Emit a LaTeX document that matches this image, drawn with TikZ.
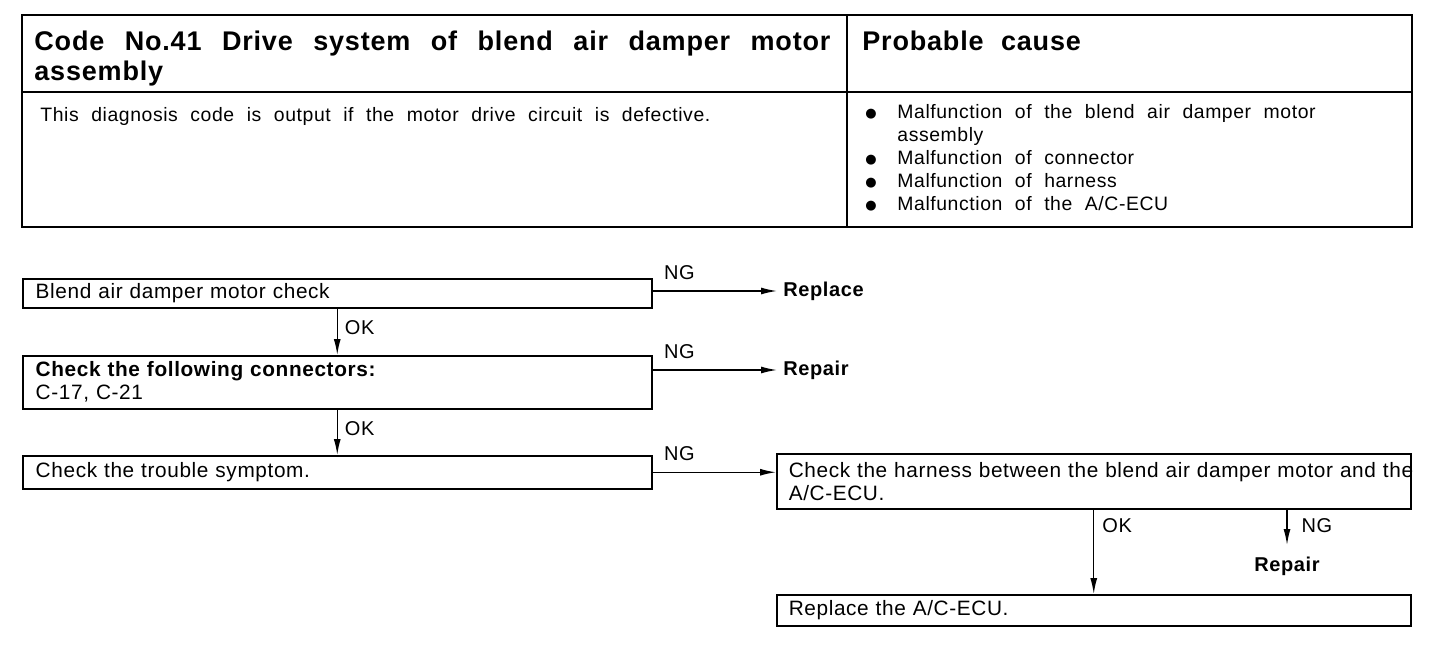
\documentclass[tikz,border=0pt]{standalone}
\usepackage{fontspec}
\setmainfont{Liberation Sans}[WordSpace=2.1, LetterSpace=3]
\newfontfamily\bulfont{DejaVu Sans}
\usepackage{tikz}
\usetikzlibrary{
  arrows.meta,
  positioning
}
\definecolor{InkBlack}{RGB}{0, 0, 0}
\newcommand{\causebul}{\makebox[17.5pt][l]{\hspace{1.5pt}\raisebox{0.6pt}{\bulfont\fontsize{6.5}{6.5}\selectfont ●}}}
\tikzset{
    headtxt/.style={inner sep=0pt, font=\fontsize{13.5}{15}\selectfont\bfseries, text=InkBlack},
    bodytxt/.style={inner sep=0pt, font=\fontsize{9.7}{11.5}\selectfont, text=InkBlack},
    flowbox/.style={draw=InkBlack, line width=0.75pt, anchor=north west, inner xsep=6.5pt, inner ysep=0pt,
        align=left, font=\fontsize{10.4}{11.5}\selectfont},
    result/.style={inner xsep=3pt, inner ysep=0pt, font=\fontsize{10}{11.5}\selectfont\bfseries},
    flowline/.style={line width=0.7pt, -{Latex[length=8pt, width=3.5pt]}},
    nglbl/.style={anchor=south west, inner sep=0pt, font=\fontsize{10}{11.5}\selectfont},
    oklbl/.style={anchor=north west, inner sep=0pt, font=\fontsize{10}{11.5}\selectfont}
}

\begin{document}
\begin{tikzpicture}[x=0.5pt, y=-0.5pt]
    \useasboundingbox (0,0) rectangle (1456,658);
    \draw[line width=1.1pt] (22,15) rectangle (1412,227);
    \draw[line width=0.9pt] (22,92) -- (1412,92);
    \draw[line width=0.9pt] (847,15) -- (847,227);
    \node[headtxt, anchor=north west, text width=398pt, align=justify] (codetitle) at (34,31)
        {Code No.41 Drive system of blend air damper motor\linebreak assembly};
    \node[headtxt, anchor=north west] (probcause) at (862,31) {Probable cause};
    \node[bodytxt, anchor=north west] (codedesc) at (40,107)
        {This diagnosis code is output if the motor drive circuit is defective.};
    \node[bodytxt, anchor=north west, align=left] (causelist) at (862,104)
        {\causebul Malfunction of the blend air damper motor\\
         \hspace*{17.5pt}assembly\\
         \causebul Malfunction of connector\\
         \causebul Malfunction of harness\\
         \causebul Malfunction of the A/C-ECU};

    \node[flowbox, text width=301.5pt, minimum height=14.5pt] (motorchk) at (22,278)
        {Blend air damper motor check};
    \node[flowbox, text width=301.5pt, minimum height=26.5pt] (connchk) at (22,355)
        {\textbf{Check the following connectors:}\\C-17, C-21};
    \node[flowbox, text width=301.5pt, minimum height=16.5pt] (symptchk) at (22,455)
        {Check the trouble symptom.};
    \node[flowbox, text width=305pt, inner xsep=6pt, minimum height=27.5pt] (harnchk) at (776,453)
        {\makebox[305pt][l]{Check the harness between the blend air damper motor and the}\\A/C-ECU.};
    \node[flowbox, text width=305pt, inner xsep=6pt, minimum height=15.5pt] (ecurepl) at (776,594)
        {Replace the A/C-ECU.};

    \node[result, anchor=west] (replace1) at (777,291) {Replace};
    \node[result, anchor=west] (repair1) at (777,370) {Repair};
    \node[result, anchor=north] (repair2) at (1287,557) {Repair};

    \draw[flowline] (motorchk.east |- replace1) -- (replace1.west)
        node[nglbl, pos=0, xshift=5.5pt, yshift=5.5pt] {NG};
    \draw[flowline] (connchk.east |- repair1) -- (repair1.west)
        node[nglbl, pos=0, xshift=5.5pt, yshift=5.5pt] {NG};
    \draw[flowline] (symptchk.east) -- (symptchk.east -| harnchk.west)
        node[nglbl, pos=0, xshift=5.5pt, yshift=5.5pt] {NG};

    \draw[flowline] (motorchk.south) -- (connchk.north)
        node[oklbl, pos=0, xshift=3.5pt, yshift=-5.5pt] {OK};
    \draw[flowline] (connchk.south) -- (symptchk.north)
        node[oklbl, pos=0, xshift=3.5pt, yshift=-5.5pt] {OK};
    \draw[flowline] (harnchk.south) -- (ecurepl.north)
        node[oklbl, pos=0, xshift=4pt, yshift=-4pt] {OK};
    \draw[flowline] (harnchk.south -| repair2.north) -- ([yshift=6pt]repair2.north)
        node[oklbl, pos=0, xshift=7pt, yshift=-4pt] {NG};
\end{tikzpicture}
\end{document}
